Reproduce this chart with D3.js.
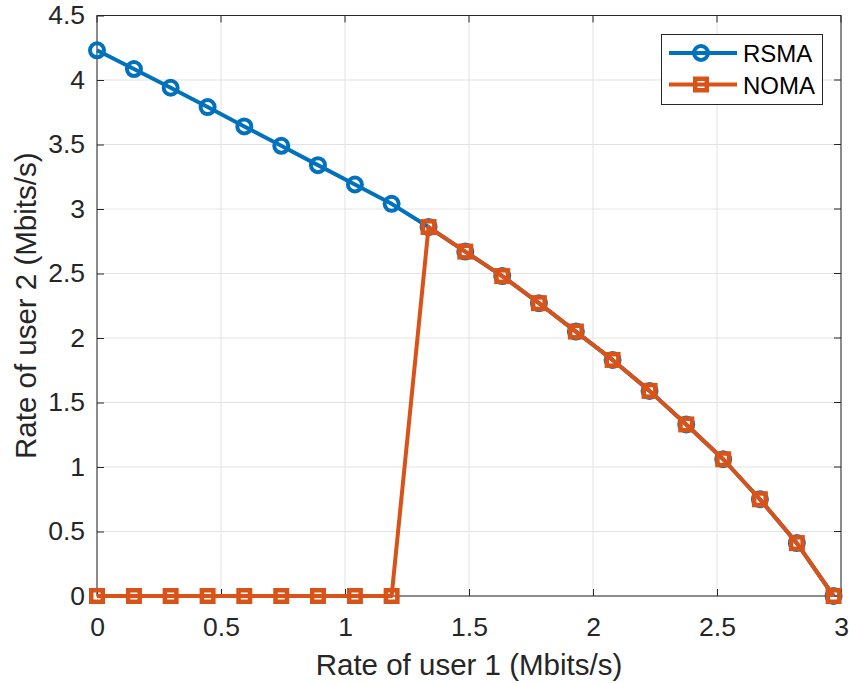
<!DOCTYPE html>
<html><head><meta charset="utf-8">
<script src="https://cdn.jsdelivr.net/npm/d3@7"></script>
<style>body{margin:0;background:#fff;} text{font-family:"Liberation Sans",Arial,sans-serif;}</style>
</head><body>
<svg id="chart" width="849" height="683"></svg>
<script>
const xValues = [0, 0.149, 0.297, 0.446, 0.594, 0.743, 0.891, 1.040, 1.188, 1.337, 1.485, 1.634, 1.782, 1.931, 2.079, 2.228, 2.376, 2.525, 2.673, 2.822, 2.970];
const rsmaValues = [4.23, 4.085, 3.94, 3.79, 3.64, 3.49, 3.34, 3.19, 3.04, 2.86, 2.67, 2.48, 2.27, 2.05, 1.83, 1.59, 1.33, 1.06, 0.75, 0.41, 0];
const nomaValues = [0, 0, 0, 0, 0, 0, 0, 0, 0, 2.86, 2.67, 2.48, 2.27, 2.05, 1.83, 1.59, 1.33, 1.06, 0.75, 0.41, 0];
const xTicks = [0, 0.5, 1, 1.5, 2, 2.5, 3];
const yTicks = [0, 0.5, 1, 1.5, 2, 2.5, 3, 3.5, 4, 4.5];
const seriesNames = ["RSMA", "NOMA"];
const seriesColors = ["#0072BD", "#D95319"];

const svg = d3.select("#chart");
const L = 97, R = 841, T = 15.5, B = 596;
const x = d3.scaleLinear().domain([0, 3]).range([L, R]);
const y = d3.scaleLinear().domain([0, 4.5]).range([B, T]);
const axisColor = "#262626";

// grid
svg.append("g").selectAll("line").data(xTicks).join("line")
  .attr("x1", d => x(d)).attr("x2", d => x(d)).attr("y1", T).attr("y2", B)
  .attr("stroke", "#e3e3e3").attr("stroke-width", 1);
svg.append("g").selectAll("line").data(yTicks).join("line")
  .attr("y1", d => y(d)).attr("y2", d => y(d)).attr("x1", L).attr("x2", R)
  .attr("stroke", "#e3e3e3").attr("stroke-width", 1);

// axes
const xAxis = d3.axisBottom(x).tickValues(xTicks).tickSize(-7).tickPadding(21).tickFormat(d3.format("~g"));
const yAxis = d3.axisLeft(y).tickValues(yTicks).tickSize(-7).tickPadding(12).tickFormat(d3.format("~g"));
const gx = svg.append("g").attr("transform", `translate(0,${B})`).call(xAxis);
const gy = svg.append("g").attr("transform", `translate(${L},0)`).call(yAxis);
[gx, gy].forEach(g => {
  g.select(".domain").remove();
  g.selectAll("line").attr("stroke", axisColor).attr("stroke-width", 1);
  g.selectAll("text").attr("fill", axisColor).style("font-size", "26.5px").style("font-family", "Liberation Sans, Arial, sans-serif");
});
// top/right ticks
svg.append("g").selectAll("line").data(xTicks).join("line")
  .attr("x1", d => x(d)).attr("x2", d => x(d)).attr("y1", T).attr("y2", T + 7).attr("stroke", axisColor);
svg.append("g").selectAll("line").data(yTicks).join("line")
  .attr("y1", d => y(d)).attr("y2", d => y(d)).attr("x1", R).attr("x2", R - 7).attr("stroke", axisColor);
// box
svg.append("rect").attr("x", L).attr("y", T).attr("width", R - L).attr("height", B - T)
  .attr("fill", "none").attr("stroke", axisColor).attr("stroke-width", 1);

// axis labels
svg.append("text").attr("x", (L + R) / 2).attr("y", 675).attr("text-anchor", "middle")
  .attr("fill", axisColor).style("font-size", "29.5px").text("Rate of user 1 (Mbits/s)");
svg.append("text").attr("transform", `translate(36,${(T + B) / 2}) rotate(-90)`).attr("text-anchor", "middle")
  .attr("fill", axisColor).style("font-size", "29.5px").text("Rate of user 2 (Mbits/s)");

const line = d3.line().x(d => x(d[0])).y(d => y(d[1]));
const rsma = xValues.map((v, i) => [v, rsmaValues[i]]);
const noma = xValues.map((v, i) => [v, nomaValues[i]]);

function drawSeries(data, color, shape) {
  const g = svg.append("g");
  g.append("path").datum(data).attr("d", line).attr("fill", "none")
    .attr("stroke", color).attr("stroke-width", 4).attr("stroke-linejoin", "round");
  if (shape === "circle") {
    g.selectAll("circle").data(data).join("circle")
      .attr("cx", d => x(d[0])).attr("cy", d => y(d[1])).attr("r", 7)
      .attr("fill", "none").attr("stroke", color).attr("stroke-width", 4);
  } else {
    g.selectAll("rect").data(data).join("rect")
      .attr("x", d => x(d[0]) - 5.75).attr("y", d => y(d[1]) - 5.75).attr("width", 11.5).attr("height", 11.5)
      .attr("fill", "none").attr("stroke", color).attr("stroke-width", 4.5);
  }
}
drawSeries(rsma, seriesColors[0], "circle");
drawSeries(noma, seriesColors[1], "square");

// legend
const lg = svg.append("g");
lg.append("rect").attr("x", 661.5).attr("y", 34.5).attr("width", 161).attr("height", 70)
  .attr("fill", "#fff").attr("stroke", axisColor).attr("stroke-width", 1);
seriesNames.forEach((name, i) => {
  const cy = 53 + i * 31.5;
  lg.append("line").attr("x1", 669).attr("x2", 737).attr("y1", cy).attr("y2", cy)
    .attr("stroke", seriesColors[i]).attr("stroke-width", 4);
  if (i === 0) {
    lg.append("circle").attr("cx", 701).attr("cy", cy).attr("r", 7).attr("fill", "none")
      .attr("stroke", seriesColors[i]).attr("stroke-width", 4);
  } else {
    lg.append("rect").attr("x", 695.25).attr("y", cy - 5.75).attr("width", 11.5).attr("height", 11.5).attr("fill", "none")
      .attr("stroke", seriesColors[i]).attr("stroke-width", 4.5);
  }
  lg.append("text").attr("x", 743).attr("y", cy + 9).attr("fill", "#000").style("font-size", "24px").text(name);
});
</script>
</body></html>
